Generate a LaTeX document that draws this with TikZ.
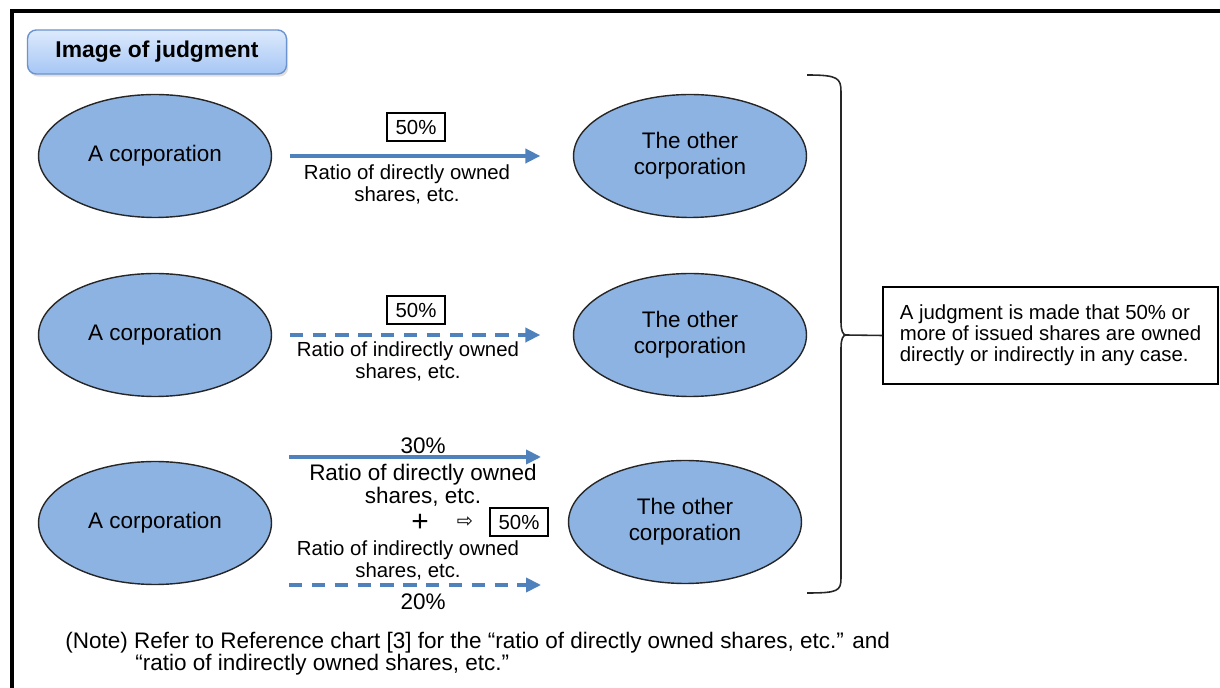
\documentclass[tikz,border=0pt]{standalone}
\usepackage{fontspec}
\setmainfont{Liberation Sans}
\newfontfamily\symbfont{DejaVu Sans}
\usepackage{xcolor}
\usetikzlibrary{arrows.meta,shapes.geometric,shadows,positioning}
\definecolor{corpblue}{HTML}{8DB3E2}
\definecolor{arrowblue}{HTML}{4F81BD}
\definecolor{titletop}{HTML}{DDEAFC}
\definecolor{titlebot}{HTML}{A6C6F5}
\definecolor{titleline}{HTML}{6B93CF}

\begin{document}
\begin{tikzpicture}[x=0.02cm, y=-0.02cm,
  corp/.style={ellipse, draw=black!85, line width=0.8pt, fill=corpblue,
    minimum width=4.66cm, minimum height=2.46cm, inner sep=0pt, align=center,
    font=\fontsize{12.8}{14.8}\selectfont},
  direct/.style={arrowblue, line width=2pt, -{Triangle[length=8.5pt,width=8pt]}},
  indirect/.style={direct, dash pattern=on 7.6pt off 5.4pt},
  pct/.style={draw, line width=0.8pt, minimum width=1.16cm, minimum height=0.56cm,
    inner sep=1pt, font=\fontsize{11.6}{12}\selectfont},
  lbl/.style={align=center, inner sep=0pt, font=\fontsize{11.6}{12.5}\selectfont},
  biglbl/.style={align=center, inner sep=0pt, font=\fontsize{12.8}{13}\selectfont}]
\useasboundingbox (0,0) rectangle (1220,688);
% outer frame
\draw[line width=2.3pt] (12,720) -- (12,11) -- (1240,11);
\node[draw=titleline, line width=0.8pt, rounded corners=5pt, top color=titletop, bottom color=titlebot,
  minimum width=5.18cm, minimum height=0.88cm,
  drop shadow={opacity=0.25, shadow xshift=1pt, shadow yshift=-1.5pt},
  font=\bfseries\fontsize{13}{13}\selectfont] (title) at (157,52) {Image of judgment};

% corporations
\node[corp] (corpA1) at (155,156) {A corporation};
\node[corp] (corpA2) at (155,335) {A corporation};
\node[corp] (corpA3) at (155,523) {A corporation};
\node[corp] (other1) at (690,156) {The other\\corporation};
\node[corp] (other2) at (690,335) {The other\\corporation};
\node[corp] (other3) at (685,522) {The other\\corporation};

% direct holding
\draw[direct, shorten <=0.35cm, shorten >=0.65cm] (corpA1) -- (other1);
\node[pct] (pct1) at (416,127) {50\%};
\node[lbl] (dlbl1) at (407,184) {Ratio of directly owned\\shares, etc.};

% indirect holding
\draw[indirect, shorten <=0.35cm, shorten >=0.65cm] (corpA2) -- (other2);
\node[pct] (pct2) at (416,310) {50\%};
\node[lbl] (ilbl2) at (408,361) {Ratio of indirectly owned\\shares, etc.};

% both
\coordinate (d3s) at (289,457);
\coordinate (d3e) at (541,457);
\coordinate (i3s) at (289,585);
\coordinate (i3e) at (541,585);
\draw[direct] (d3s) -- (d3e);
\draw[indirect] (i3s) -- (i3e);
\node[biglbl] (p30) at (423,446) {30\%};
\node[biglbl] (dlbl3) at (423,485) {Ratio of directly owned\\shares, etc.};
\node[inner sep=0pt, font=\fontsize{17}{17}\selectfont] (plus) at (420,523) {+};
\node[inner sep=0pt, font=\symbfont\fontsize{11}{11}\selectfont] (then) at (465,522) {⇨};
\node[pct] (pct3) at (519,522) {50\%};
\node[lbl] (ilbl3) at (408,560) {Ratio of indirectly owned\\shares, etc.};
\node[biglbl] (p20) at (423,602) {20\%};

% brace and conclusion
\coordinate (tip) at (846,335);
\draw[line width=0.9pt, black!85] (807,75) .. controls (838,75) and (841,78) .. (841,92) -- (841,322)
  .. controls (841,331) and (843,335) .. (tip) .. controls (843,335) and (841,339) .. (841,348)
  -- (841,578) .. controls (841,591) and (838,593) .. (807,593);
\node[draw, line width=0.8pt, minimum width=6.7cm, minimum height=1.94cm, align=left,
  font=\fontsize{11.6}{12}\selectfont] (judge) at (1050.5,335.5)
  {A judgment is made that 50\% or\\more of issued shares are owned\\directly or indirectly in any case.};
\draw[line width=0.9pt, black!85] (tip) -- (judge.west);

\node[anchor=west, align=left, inner sep=0pt, font=\fontsize{12.8}{12.5}\selectfont] (note) at (65,654)
  {(Note) Refer to Reference chart [3] for the “ratio of directly owned shares, etc.” and\\
   \hspace*{1.4cm}“ratio of indirectly owned shares, etc.”};
\end{tikzpicture}
\end{document}
